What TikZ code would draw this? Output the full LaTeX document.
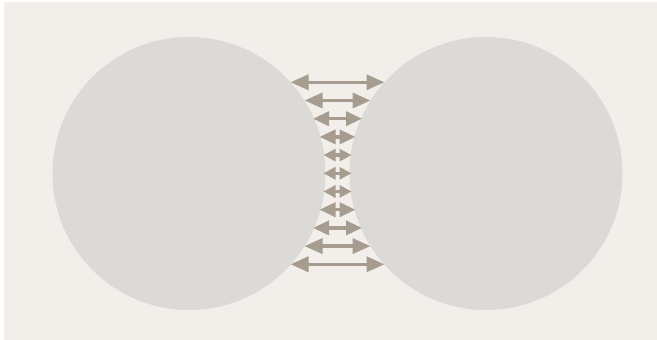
\documentclass[tikz,border=0pt]{standalone}
\usetikzlibrary{arrows.meta}
\definecolor{bgc}{RGB}{242,239,235}
\definecolor{circc}{RGB}{220,218,214}
\definecolor{arrc}{RGB}{166,156,144}
\tikzset{
  ball/.style={circle, fill=circc, draw=none, minimum size=273pt, inner sep=0pt},
  bond/.style={draw=arrc, line width=3.5pt},
  bigtip/.style={bond, {Triangle[length=18pt,width=15pt]}-{Triangle[length=18pt,width=15pt]}},
  midtip/.style={bond, {Triangle[length=16pt,width=14pt]}-{Triangle[length=16pt,width=14pt]}},
  smalltip/.style={bond, {Triangle[length=12pt,width=12pt]}-{Triangle[length=12pt,width=12pt]}}
}
\begin{document}
\begin{tikzpicture}[x=1pt,y=-1pt]
\useasboundingbox (0,0) rectangle (657,340);
\fill[white] (0,0) rectangle (657,340);
\fill[bgc] (4,2) rectangle (657,340);
\node[ball] (left) at (189,173.5) {};
\node[ball] (right) at (486,173.5) {};
\foreach \k/\h/\s in {-5/47/bigtip, -4/33/bigtip, -3/24.5/midtip, -2/18/midtip, -1/14/smalltip, 0/14/smalltip, 1/14/smalltip, 2/18/midtip, 3/24.5/midtip, 4/33/bigtip, 5/47/bigtip}{
  \coordinate (a\k) at ({337.5-\h},{173.3+18.2*\k});
  \coordinate (b\k) at ({337.5+\h},{173.3+18.2*\k});
  \draw[\s] (a\k) -- (b\k);
}
\end{tikzpicture}
\end{document}
